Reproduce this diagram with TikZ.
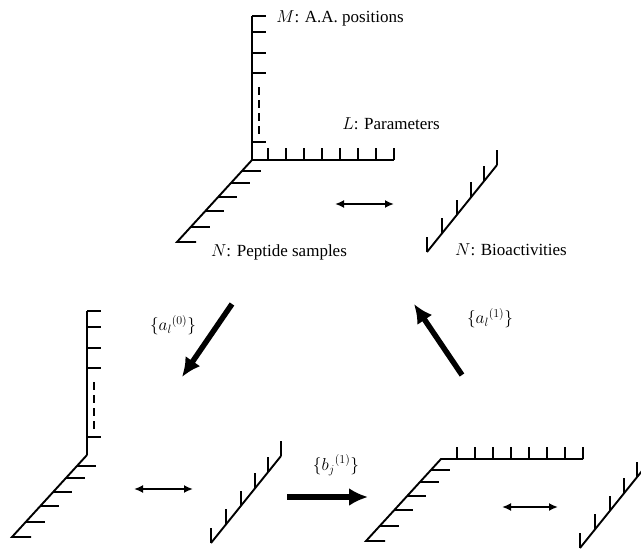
\documentclass[tikz,border=0pt]{standalone}
\usepackage{fontspec}
\setmainfont{Liberation Serif}
\usetikzlibrary{arrows.meta,positioning}

\begin{document}
\begin{tikzpicture}[x=1pt,y=-1pt,
    axis/.style={line width=1.9pt},
    tick/.style={line width=1.9pt},
    dots/.style={line width=1.9pt,dash pattern=on 8pt off 5pt},
    swap/.style={{Latex[length=9pt,width=8pt]}-{Latex[length=9pt,width=8pt]},line width=2pt},
    bigarrow/.style={-{Latex[length=19pt,width=18pt]},line width=5.5pt},
    lbl/.style={font=\fontsize{17}{20}\selectfont,inner sep=0pt}]

    \useasboundingbox (0,0) rectangle (641,549);

    % top: peptide matrix
    \begin{scope}[shift={(252,160)}]
      \draw[axis] (0,-144) -- (0,0) -- (142,0);
      \foreach \y in {-144,-128,-107,-87,-18} \draw[tick] (0,\y) -- ++(14,0);
      \draw[dots] (7,-73) -- (7,-26);
      \foreach \x in {16,34,...,142} \draw[tick] (\x,0) -- ++(0,-12);
      \draw[axis] (0,0) -- (-75,82) -- ++(19,0);
      \foreach \y in {11,23,37,51,67} \draw[tick] (-75*\y/82,\y) -- ++(19,0);
    \end{scope}
    % top: bioactivities
    \begin{scope}[shift={(427,252)}]
      \draw[axis] (0,0) -- (70,-87);
      \foreach \x in {0,15,30,44,57,70} \draw[tick] (\x,-1.243*\x) -- ++(0,-15);
    \end{scope}

    % bottom left
    \begin{scope}[shift={(87,455)}]
      \draw[axis] (0,-144) -- (0,0);
      \foreach \y in {-144,-128,-107,-87,-18} \draw[tick] (0,\y) -- ++(14,0);
      \draw[dots] (7,-73) -- (7,-26);
      \draw[axis] (0,0) -- (-75,82) -- ++(19,0);
      \foreach \y in {11,23,37,51,67} \draw[tick] (-75*\y/82,\y) -- ++(19,0);
    \end{scope}
    \begin{scope}[shift={(211,543)}]
      \draw[axis] (0,0) -- (70,-87);
      \foreach \x in {0,15,30,44,57,70} \draw[tick] (\x,-1.243*\x) -- ++(0,-15);
    \end{scope}

    % bottom right
    \begin{scope}[shift={(441,459)}]
      \draw[axis] (142,0) -- (0,0) -- (-75,82) -- ++(19,0);
      \foreach \x in {16,34,...,142} \draw[tick] (\x,0) -- ++(0,-12);
      \foreach \y in {11,23,37,51,67} \draw[tick] (-75*\y/82,\y) -- ++(19,0);
    \end{scope}
    \begin{scope}[shift={(580,548)}]
      \draw[axis] (0,0) -- (70,-87);
      \foreach \x in {0,15,30,44,57,70} \draw[tick] (\x,-1.243*\x) -- ++(0,-15);
    \end{scope}

    % labels
    \node[lbl] (mlab) at (340,18)  {$M$: A.A. positions};
    \node[lbl] (llab) at (391,124) {$L$: Parameters};
    \node[lbl] (nlab) at (279,252) {$N$: Peptide samples};
    \node[lbl] (blab) at (511,250) {$N$: Bioactivities};
    \node[lbl] (a0lab) at (173,325) {$\{{a_l}^{(0)}\}$};
    \node[lbl] (a1lab) at (490,318) {$\{{a_l}^{(1)}\}$};
    \node[lbl] (b1lab) at (336,465) {$\{{b_j}^{(1)}\}$};

    % connectors
    \coordinate (s1) at (335,204); \coordinate (t1) at (394,204);
    \coordinate (s2) at (134,489); \coordinate (t2) at (193,489);
    \coordinate (s3) at (502,507); \coordinate (t3) at (558,507);
    \foreach \i in {1,2,3} { \draw[swap] (s\i) -- (t\i); }

    \coordinate (a0s) at (232,304); \coordinate (a0e) at (182,377);
    \coordinate (a1s) at (462,375); \coordinate (a1e) at (414,304);
    \coordinate (b1s) at (287,497); \coordinate (b1e) at (368,497);
    \draw[bigarrow] (a0s) -- (a0e);
    \draw[bigarrow] (a1s) -- (a1e);
    \draw[bigarrow] (b1s) -- (b1e);
\end{tikzpicture}
\end{document}
